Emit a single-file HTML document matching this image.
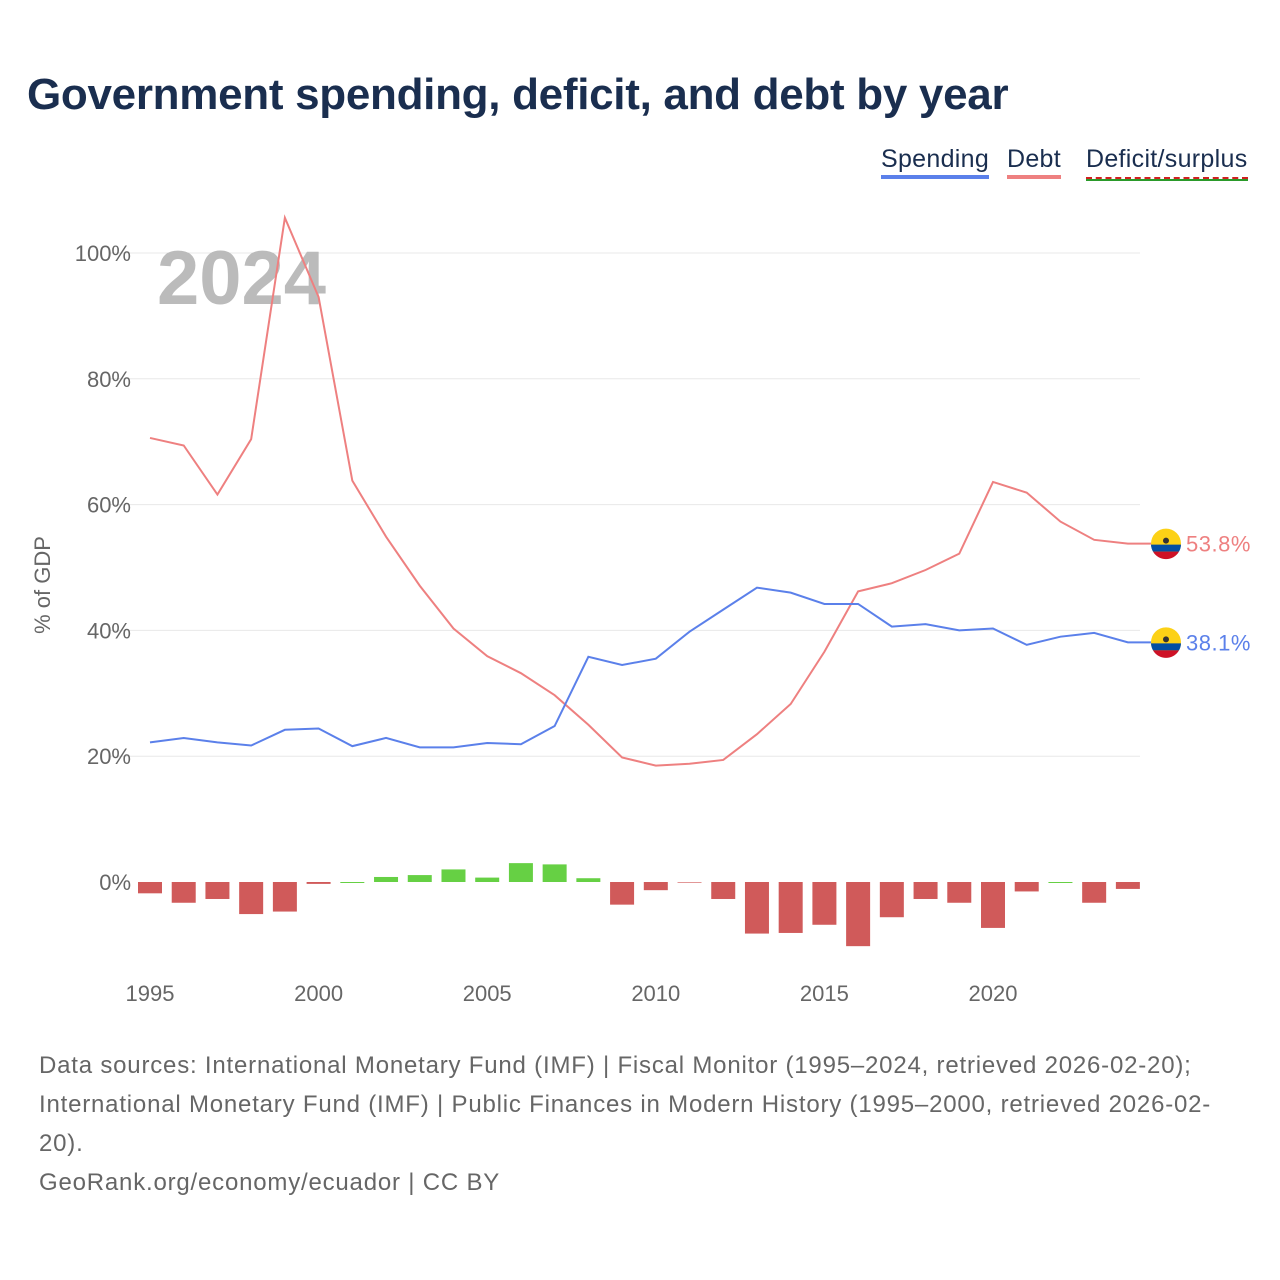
<!DOCTYPE html>
<html><head><meta charset="utf-8"><style>
body{margin:0;width:1280px;height:1280px;background:#fff;font-family:"Liberation Sans",sans-serif;position:relative;overflow:hidden}
#title{position:absolute;left:27px;top:70px;font-size:44px;font-weight:bold;color:#1a2e4f;letter-spacing:-0.3px}
.leg{position:absolute;top:145px;font-size:25px;color:#1a2e4f;letter-spacing:0.3px}
#src{position:absolute;left:39px;top:1046px;width:1190px;font-size:24px;line-height:39px;color:#666;letter-spacing:0.8px}
</style></head><body>
<div id="title">Government spending, deficit, and debt by year</div>
<div class="leg" style="left:881px;border-bottom:4px solid #5b80ea;padding-bottom:1px">Spending</div>
<div class="leg" style="left:1007px;border-bottom:4px solid #ee8080;padding-bottom:1px">Debt</div>
<div class="leg" style="left:1086px;border-bottom:2px dashed #d02020;padding-bottom:3px;box-shadow:0 2px 0 #2a9a2a">Deficit/surplus</div>
<svg id="chart" width="1280" height="1040" style="position:absolute;left:0;top:0"></svg>
<div id="src">Data sources: International Monetary Fund (IMF) | Fiscal Monitor (1995–2024, retrieved 2026-02-20); International Monetary Fund (IMF) | Public Finances in Modern History (1995–2000, retrieved 2026-02-20).<br>GeoRank.org/economy/ecuador | CC BY</div>
<script>
const years=[1995,1996,1997,1998,1999,2000,2001,2002,2003,2004,2005,2006,2007,2008,2009,2010,2011,2012,2013,2014,2015,2016,2017,2018,2019,2020,2021,2022,2023,2024];
const spending=[22.2,22.9,22.2,21.7,24.2,24.4,21.6,22.9,21.4,21.4,22.1,21.9,24.8,35.8,34.5,35.5,39.8,43.3,46.8,46.0,44.2,44.2,40.6,41.0,40.0,40.3,37.7,39.0,39.6,38.1];
const debt=[70.6,69.4,61.6,70.4,105.6,93.0,63.8,54.9,47.1,40.3,35.9,33.2,29.7,25.0,19.8,18.5,18.8,19.4,23.5,28.3,36.6,46.2,47.5,49.6,52.2,63.6,61.9,57.3,54.4,53.8];
const deficit=[-1.8,-3.3,-2.7,-5.1,-4.7,-0.3,0,0.8,1.1,2.0,0.7,3.0,2.8,0.6,-3.6,-1.3,-0.1,-2.7,-8.2,-8.1,-6.8,-10.2,-5.6,-2.7,-3.3,-7.3,-1.5,0,-3.3,-1.1];
const yTicks=[0,20,40,60,80,100];
const xTicks=[1995,2000,2005,2010,2015,2020];
const svg=document.getElementById('chart');const NS='http://www.w3.org/2000/svg';
const X=y=>150+(y-1995)*33.72, Y=v=>882-v*6.29;
function mk(t,a,p){const e=document.createElementNS(NS,t);for(const k in a)e.setAttribute(k,a[k]);(p||svg).appendChild(e);return e;}
yTicks.forEach(t=>{if(t>0){const g=mk('line',{x1:110,x2:1140,y1:Y(t),y2:Y(t),stroke:'#e8e8e8'});}
const l=mk('text',{x:131,y:Y(t)+8,'text-anchor':'end','font-size':22,fill:'#666'});l.textContent=t+'%';});
xTicks.forEach(t=>{const l=mk('text',{x:X(t),y:1001,'text-anchor':'middle','font-size':22,fill:'#666'});l.textContent=t;});
const yt=mk('text',{x:0,y:0,transform:'translate(50,585) rotate(-90)','text-anchor':'middle','font-size':22,fill:'#666'});yt.textContent='% of GDP';
const yr=mk('text',{x:157,y:304,'font-size':76,'font-weight':'bold',fill:'#bbb'});yr.textContent='2024';
deficit.forEach((v,i)=>{const y0=Y(0),y1=Y(v);const b=mk('rect',{x:X(years[i])-12,width:24,y:Math.min(y0,y1),height:Math.max(Math.abs(y1-y0),v===0?1:0),fill:v>=0?'#66d044':'#d05a5a'});});
function line(d,c,n){let p=d.map((v,i)=>(i?'L':'M')+X(years[i])+','+Y(v)).join('')+'H1152';const e=mk('path',{d:p,fill:'none',stroke:c,'stroke-width':2});
const v=d[d.length-1],cy=Y(v);const g=mk('g',{});
mk('circle',{cx:1166,cy:cy,r:15,fill:'#fcd116'},g);mk('path',{d:`M1151,${cy+1}H1181A15,15 0 0 1 1179,${cy+8}H1153A15,15 0 0 1 1151,${cy+1}Z`,fill:'#034ea2'},g);mk('path',{d:`M1153,${cy+8}H1179A15,15 0 0 1 1153,${cy+8}Z`,fill:'#ce1126'},g);mk('circle',{cx:1166,cy:cy-3,r:3,fill:'#333'},g);
const t=mk('text',{x:1186,y:cy+8,'font-size':22,fill:c,'letter-spacing':0.5});t.textContent=v.toFixed(1)+'%';}
line(debt,'#ee8080','debt-line');line(spending,'#5b80ea','spending-line');
</script></body></html>
